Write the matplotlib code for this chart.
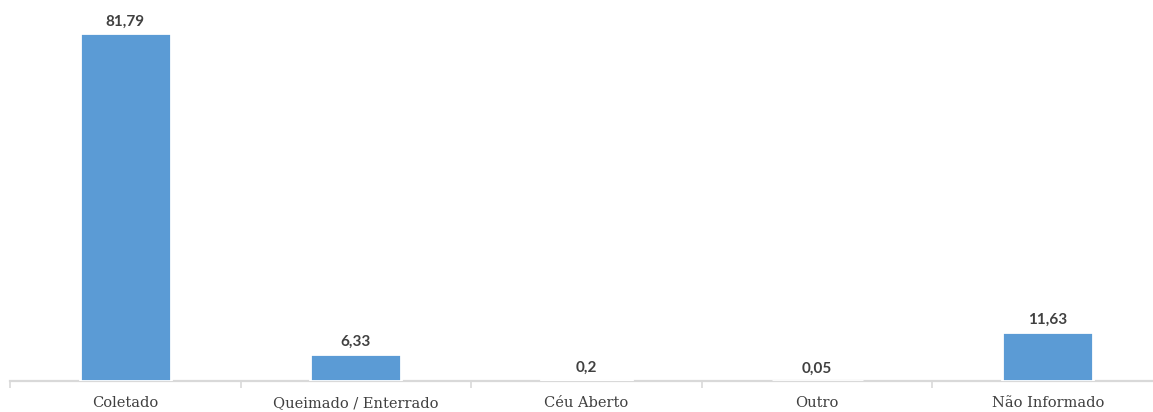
import numpy as np
import matplotlib.pyplot as plt

categorias = ["Coletado", "Queimado / Enterrado", "Céu Aberto", "Outro", "Não Informado"]
valores = [81.79, 6.33, 0.2, 0.05, 11.63]
rotulos = ["81,79", "6,33", "0,2", "0,05", "11,63"]

fig = plt.figure(figsize=(11.53, 4.12), dpi=100)
ax = fig.add_axes([10 / 1153, 31 / 412, 1, 381 / 412])

x = np.arange(len(categorias))
bars = ax.bar(x, valores, width=0.394, color="#5b9bd5", edgecolor="white",
              linewidth=2, zorder=3)

for b, txt in zip(bars, rotulos):
    ax.annotate(txt, (b.get_x() + b.get_width() / 2, b.get_height()),
                xytext=(0, 3.5), textcoords="offset points", ha="center", va="bottom",
                fontsize=11, fontweight="bold", color="#404040", family="Lato", zorder=4)

ax.set_xlim(-0.5, 4.5)
ax.set_ylim(0, 89.6)

for s in ["top", "right", "left"]:
    ax.spines[s].set_visible(False)
ax.spines["bottom"].set_color("#d9d9d9")
ax.spines["bottom"].set_linewidth(1.6)
ax.spines["bottom"].set_zorder(1)

ax.set_yticks([])
ax.set_xticks(np.arange(-0.5, 5, 1))
ax.set_xticklabels([])
ax.tick_params(axis="x", which="major", length=5, width=1.2, color="#d9d9d9")
ax.set_xticks(x, minor=True)
ax.set_xticklabels(categorias, minor=True, fontsize=10.5, family="DejaVu Serif",
                   color="#404040")
ax.tick_params(axis="x", which="minor", length=0, pad=11)

fig.savefig("out.png", dpi=100)
